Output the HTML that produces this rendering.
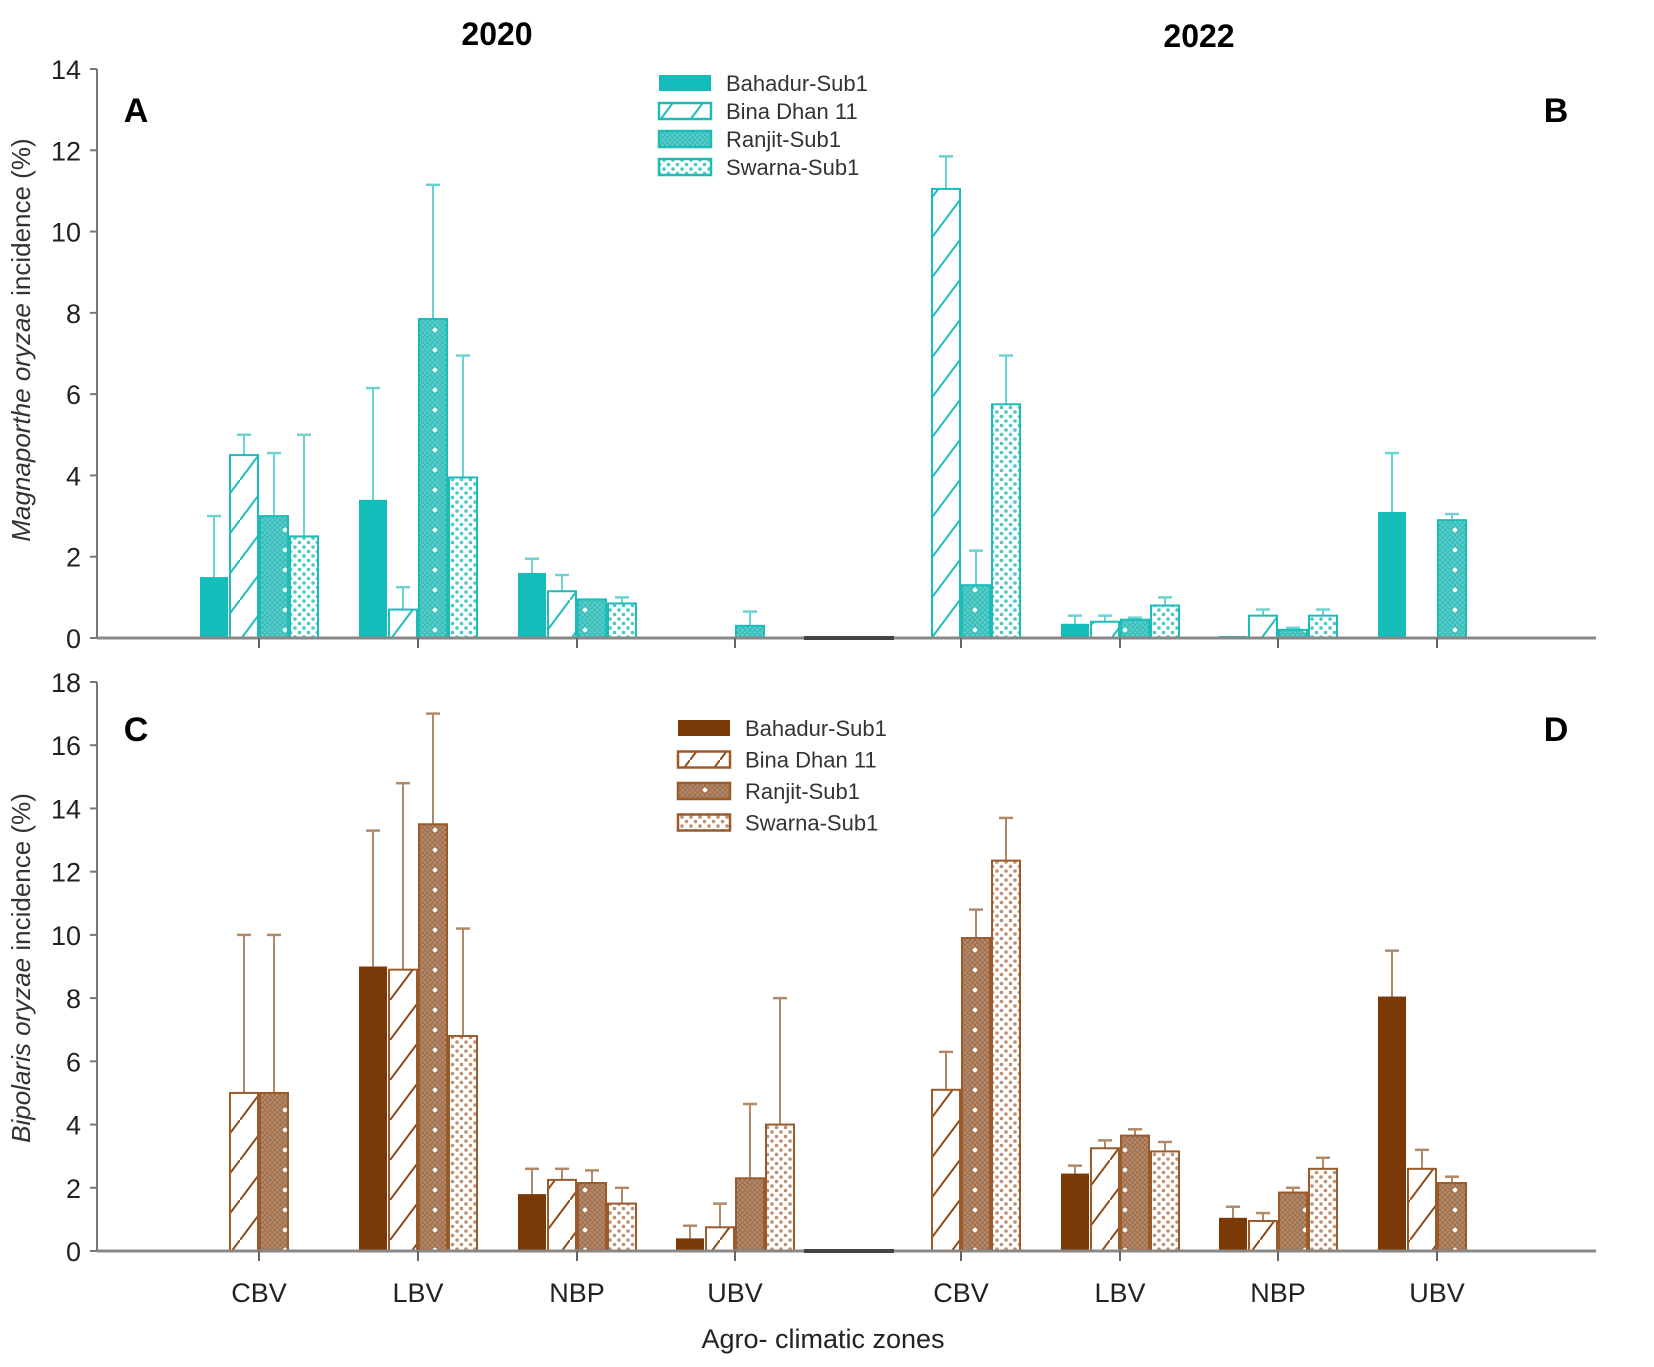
<!DOCTYPE html>
<html><head><meta charset="utf-8"><style>
body{margin:0;background:#fff;}
svg{display:block;font-family:"Liberation Sans",Arial,sans-serif;}
</style></head><body>
<svg id="chart" width="1654" height="1367" viewBox="0 0 1654 1367" xmlns="http://www.w3.org/2000/svg">
<defs>
<pattern id="tHatch" width="30" height="40" patternUnits="userSpaceOnUse"><line x1="0" y1="40" x2="30" y2="0" stroke="#1cbcb8" stroke-width="2"/></pattern>
<pattern id="tCross" width="5" height="5" patternUnits="userSpaceOnUse"><rect width="5" height="5" fill="#5ccfcb"/><path d="M0 0L5 5M5 0L0 5" stroke="#2fb8b4" stroke-width="0.8"/></pattern>
<pattern id="tRanjit" width="30" height="20" patternUnits="userSpaceOnUse"><rect width="30" height="20" fill="url(#tCross)"/><circle cx="15" cy="10" r="2.2" fill="#fff"/></pattern>
<pattern id="tDots" width="9" height="9" patternUnits="userSpaceOnUse"><rect width="9" height="9" fill="#fff"/><circle cx="2.5" cy="2.5" r="1.8" fill="#4cc8c4"/><circle cx="7" cy="7" r="1.8" fill="#4cc8c4"/></pattern>
<pattern id="bHatch" width="30" height="40" patternUnits="userSpaceOnUse"><line x1="0" y1="40" x2="30" y2="0" stroke="#8a4a1a" stroke-width="2"/></pattern>
<pattern id="bCross" width="5" height="5" patternUnits="userSpaceOnUse"><rect width="5" height="5" fill="#b58a6a"/><path d="M0 0L5 5M5 0L0 5" stroke="#9a6a48" stroke-width="0.8"/></pattern>
<pattern id="bRanjit" width="30" height="20" patternUnits="userSpaceOnUse"><rect width="30" height="20" fill="url(#bCross)"/><circle cx="15" cy="10" r="2.2" fill="#fff"/></pattern>
<pattern id="bDots" width="9" height="9" patternUnits="userSpaceOnUse"><rect width="9" height="9" fill="#fff"/><circle cx="2.5" cy="2.5" r="1.8" fill="#c09070"/><circle cx="7" cy="7" r="1.8" fill="#c09070"/></pattern>
</defs>
<text x="497" y="45" font-size="32" font-weight="bold" text-anchor="middle">2020</text>
<text x="1199" y="47" font-size="32" font-weight="bold" text-anchor="middle">2022</text>
<text x="136" y="122" font-size="34" font-weight="bold" text-anchor="middle">A</text>
<text x="1556" y="122" font-size="34" font-weight="bold" text-anchor="middle">B</text>
<text x="136" y="741" font-size="34" font-weight="bold" text-anchor="middle">C</text>
<text x="1556" y="741" font-size="34" font-weight="bold" text-anchor="middle">D</text>
<text transform="translate(30,340) rotate(-90)" font-size="26" fill="#333" text-anchor="middle"><tspan font-style="italic">Magnaporthe oryzae</tspan>  incidence (%)</text>
<text transform="translate(30,968) rotate(-90)" font-size="26" fill="#333" text-anchor="middle"><tspan font-style="italic">Bipolaris oryzae</tspan>  incidence (%)</text>
<text x="823" y="1348" font-size="27" fill="#222" text-anchor="middle">Agro- climatic zones</text>
<g id="plots"></g>
</svg>
<script>
const zones = ["CBV","LBV","NBP","UBV"];
const varieties = ["Bahadur-Sub1","Bina Dhan 11","Ranjit-Sub1","Swarna-Sub1"];
// Top panel (Magnaporthe oryzae): [zone][variety]
const m2020 = [[1.5,4.5,3.0,2.5],[3.4,0.7,7.85,3.95],[1.6,1.15,0.95,0.85],[0,0,0.3,0]];
const m2020err = [[3.0,5.0,4.55,5.0],[6.15,1.25,11.15,6.95],[1.95,1.55,0.95,1.0],[0,0,0.65,0]];
const m2022 = [[0,11.05,1.3,5.75],[0.35,0.4,0.45,0.8],[0.05,0.55,0.2,0.55],[3.1,0,2.9,0]];
const m2022err = [[0,11.85,2.15,6.95],[0.55,0.55,0.5,1.0],[0.05,0.7,0.25,0.7],[4.55,0,3.05,0]];
// Bottom panel (Bipolaris oryzae)
const b2020 = [[0,5,5,0],[9,8.9,13.5,6.8],[1.8,2.25,2.15,1.5],[0.4,0.75,2.3,4.0]];
const b2020err = [[0,10,10,0],[13.3,14.8,17,10.2],[2.6,2.6,2.55,2.0],[0.8,1.5,4.65,8.0]];
const b2022 = [[0,5.1,9.9,12.35],[2.45,3.25,3.65,3.15],[1.05,0.95,1.85,2.6],[8.05,2.6,2.15,0]];
const b2022err = [[0,6.3,10.8,13.7],[2.7,3.5,3.85,3.45],[1.4,1.2,2.0,2.95],[9.5,3.2,2.35,0]];
const topTicks = [0,2,4,6,8,10,12,14];
const botTicks = [0,2,4,6,8,10,12,14,16,18];

const NS="http://www.w3.org/2000/svg";
const root=document.getElementById('plots');
function mk(tag,attrs,parent){const e=document.createElementNS(NS,tag);for(const k in attrs)e.setAttribute(k,attrs[k]);(parent||root).appendChild(e);return e;}
const x0=97,x1=1596;
const cx2020=[259,418,577,735], cx2022=[961,1120,1278,1437];
const BW=30;
function xPos(yearIdx,zi,vi){const c=(yearIdx===0?cx2020:cx2022)[zi];return c-2*BW+vi*BW;}

function panel(cfg){
  const y=v=>cfg.y0-(v/cfg.max)*(cfg.y0-cfg.yTop);
  const g=mk('g',{});
  
  
  const ax=mk('line',{x1:x0,y1:cfg.yTop,x2:x0,y2:cfg.y0,stroke:'#777','stroke-width':2},g);
  
  
  cfg.ticks.forEach(t=>{
    mk('line',{x1:x0-7,y1:y(t),x2:x0,y2:y(t),stroke:'#777','stroke-width':2},g);
    const tx=mk('text',{x:x0-16,y:y(t)+10,'font-size':27,'text-anchor':'end',fill:'#222'},g);
    tx.textContent=t;
    
    
  });
  const fills=cfg.fills, stroke=cfg.color;
  [[cfg.d20,cfg.e20],[cfg.d22,cfg.e22]].forEach((pair,yi)=>{
    pair[0].forEach((row,zi)=>{
      row.forEach((v,vi)=>{
        const bx=xPos(yi,zi,vi);
        const e=pair[1][zi][vi];
        if(e>v){
          const ex=bx+BW/2;
          mk('line',{x1:ex,y1:y(e),x2:ex,y2:y(v),stroke:cfg.errColor,'stroke-width':2},g);
          mk('line',{x1:ex-7,y1:y(e),x2:ex+7,y2:y(e),stroke:cfg.errColor,'stroke-width':2.5},g);
        }
        if(v>0){
          const r=mk('rect',{x:bx+1,y:y(v),width:BW-2,height:cfg.y0-y(v),fill:fills[vi],stroke:stroke,'stroke-width':vi===0?0:2},g);
          
          
        }
      });
    });
  });
  mk('line',{x1:x0,y1:cfg.y0,x2:x1,y2:cfg.y0,stroke:'#888','stroke-width':3},g);
  mk('line',{x1:804,y1:cfg.y0,x2:894,y2:cfg.y0,stroke:'#444','stroke-width':4},g);
  cx2020.concat(cx2022).forEach(c=>mk('line',{x1:c,y1:cfg.y0,x2:c,y2:cfg.y0+10,stroke:'#666','stroke-width':2},g));
  // legend
  varieties.forEach((n,i)=>{
    const ly=cfg.legY+i*cfg.legGap;
    const lr=mk('rect',{x:cfg.legX+1,y:ly-8,width:52,height:16,fill:fills[i],stroke:stroke,'stroke-width':i===0?0:2.5},g);
    
    
    const lt=mk('text',{x:cfg.legX+68,y:ly+8,'font-size':22,fill:'#333'},g);
    lt.textContent=n;
    
    
  });
}
panel({name:'top-panel',y0:638,yTop:69,max:14,ticks:topTicks,d20:m2020,e20:m2020err,d22:m2022,e22:m2022err,
  fills:['#14bdb9','url(#tHatch)','url(#tRanjit)','url(#tDots)'],color:'#1cbcb8',errColor:'#6dd3d0',legX:658,legY:83,legGap:28});
panel({name:'bottom-panel',y0:1251,yTop:682,max:18,ticks:botTicks,d20:b2020,e20:b2020err,d22:b2022,e22:b2022err,
  fills:['#7a3a08','url(#bHatch)','url(#bRanjit)','url(#bDots)'],color:'#9a5a2a',errColor:'#b08a68',legX:677,legY:728,legGap:31.5});
cx2020.concat(cx2022).forEach((c,i)=>{
  const t=mk('text',{x:c,y:1302,'font-size':27,'text-anchor':'middle',fill:'#222'});
  t.textContent=zones[i%4];
  
  
});
</script>
</body></html>
